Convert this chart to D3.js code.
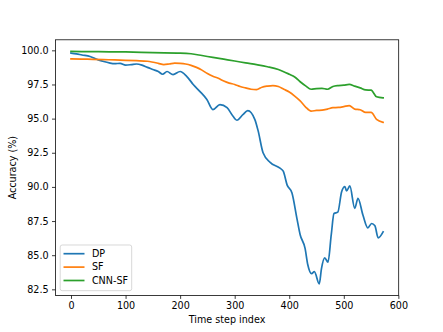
<!DOCTYPE html>
<html>
<head>
<meta charset="utf-8">
<script src="https://cdn.jsdelivr.net/npm/d3@7"></script>
<style>
  body { margin: 0; background: #fff; }
  text { font-family: "DejaVu Sans", sans-serif; }
</style>
</head>
<body>
<script>
// data
const stepsDP = [0, 10, 20, 35, 50, 60, 70, 80, 90, 100, 110, 120, 130, 140, 150, 160, 168, 176, 187, 200,
  212, 224, 236, 249, 260, 273, 286, 297, 304, 315, 324, 337, 343, 352, 365, 383, 389, 396, 405, 414,
  420, 429, 434, 441, 446, 455, 459, 465, 471, 477, 482, 489, 496, 502, 505, 511, 520, 526, 535, 544,
  551, 557, 563, 572];
const accDP = [99.8, 99.74, 99.66, 99.55, 99.3, 99.18, 99.08, 99.02, 99.05, 98.92, 98.95, 99.0, 98.92, 98.75, 98.6, 98.45, 98.25, 98.45, 98.22, 98.45,
  98.1, 97.5, 97.0, 96.4, 95.66, 96.03, 95.8, 95.17, 94.88, 95.29, 95.59, 94.93, 94.1, 92.5, 91.8, 91.37, 91.15, 90.15, 89.55, 87.7,
  86.5, 85.5, 84.3, 83.65, 83.8, 82.9, 84.0, 84.8, 84.5, 86.5, 88.05, 88.15, 89.65, 90.02, 89.7, 90.07, 88.43, 89.16, 87.94, 87.0,
  87.32, 87.15, 86.27, 86.71];

const stepsSF = [0, 20, 40, 60, 80, 100, 120, 140, 160, 170, 180, 190, 200, 210, 220, 230, 240, 250, 260, 270,
  280, 290, 300, 310, 320, 330, 340, 350, 360, 370, 380, 390, 400, 410, 420, 430, 440, 450, 460, 470,
  480, 490, 500, 510, 520, 530, 540, 550, 560, 572];
const accSF = [99.38, 99.36, 99.34, 99.32, 99.3, 99.27, 99.24, 99.2, 99.05, 98.95, 99.0, 99.07, 99.05, 99.0, 98.9, 98.75, 98.55, 98.3, 98.1, 97.95,
  97.75, 97.6, 97.5, 97.35, 97.25, 97.15, 97.12, 97.3, 97.38, 97.42, 97.35, 97.15, 96.95, 96.65, 96.3, 95.85, 95.55, 95.6, 95.62, 95.7,
  95.8, 95.82, 95.88, 95.95, 95.7, 95.65, 95.45, 95.45, 94.95, 94.73];

const stepsCNN = [0, 20, 50, 100, 150, 200, 220, 240, 260, 280, 300, 320, 340, 360, 380, 400, 410, 420, 430, 440,
  450, 460, 470, 480, 490, 500, 510, 520, 530, 540, 550, 560, 572];
const accCNN = [99.92, 99.91, 99.9, 99.88, 99.83, 99.8, 99.75, 99.62, 99.48, 99.35, 99.22, 99.08, 98.95, 98.8, 98.6, 98.25, 98.05, 97.7, 97.4, 97.15,
  97.2, 97.22, 97.15, 97.35, 97.42, 97.45, 97.5, 97.38, 97.25, 97.1, 97.08, 96.6, 96.52];

const seriesNames = ["DP", "SF", "CNN-SF"];
const seriesColors = ["#1f77b4", "#ff7f0e", "#2ca02c"];
const xTicks = [0, 100, 200, 300, 400, 500, 600];
const yTicks = [82.5, 85.0, 87.5, 90.0, 92.5, 95.0, 97.5, 100.0];

const series = [
  { name: seriesNames[0], color: seriesColors[0], pts: stepsDP.map((s, i) => [s, accDP[i]]) },
  { name: seriesNames[1], color: seriesColors[1], pts: stepsSF.map((s, i) => [s, accSF[i]]) },
  { name: seriesNames[2], color: seriesColors[2], pts: stepsCNN.map((s, i) => [s, accCNN[i]]) },
];

const width = 443, height = 332;
const axLeft = 55.4, axRight = 398.7, axTop = 39.8, axBottom = 295.5;

const svg = d3.select("body").append("svg")
  .attr("width", width)
  .attr("height", height);

// matplotlib style 5% margins
const allX = series.flatMap(s => s.pts.map(p => p[0]));
const allY = series.flatMap(s => s.pts.map(p => p[1]));
const [x0, x1] = d3.extent(allX);
const [y0, y1] = d3.extent(allY);
const xPad = (x1 - x0) * 0.05, yPad = (y1 - y0) * 0.05;

const x = d3.scaleLinear().domain([x0 - xPad, x1 + xPad]).range([axLeft, axRight]);
const y = d3.scaleLinear().domain([y0 - yPad, y1 + yPad]).range([axBottom, axTop]);

const line = d3.line()
  .x(d => x(d[0]))
  .y(d => y(d[1]))
  .curve(d3.curveMonotoneX);

const plot = svg.append("g");
plot.append("clipPath").attr("id", "clip")
  .append("rect").attr("x", axLeft).attr("y", axTop).attr("width", axRight - axLeft).attr("height", axBottom - axTop);

plot.selectAll("path.series")
  .data(series)
  .join("path")
  .attr("class", "series")
  .attr("clip-path", "url(#clip)")
  .attr("fill", "none")
  .attr("stroke", d => d.color)
  .attr("stroke-width", 1.7)
  .attr("stroke-linejoin", "round")
  .attr("stroke-linecap", "square")
  .attr("d", d => line(d.pts));

// axes
const xAxis = d3.axisBottom(x).tickValues(xTicks).tickSize(3.4).tickPadding(3.4).tickFormat(d3.format("d"));
const yAxis = d3.axisLeft(y).tickValues(yTicks).tickSize(3.4).tickPadding(3.4).tickFormat(d3.format(".1f"));

const gx = svg.append("g").attr("transform", `translate(0,${axBottom})`).call(xAxis);
const gy = svg.append("g").attr("transform", `translate(${axLeft},0)`).call(yAxis);
[gx, gy].forEach(g => {
  g.select(".domain").remove();
  g.selectAll(".tick line").attr("stroke", "#000").attr("stroke-width", 0.77);
  g.selectAll(".tick text").attr("fill", "#000").style("font-size", "9.6px").style("font-family", "DejaVu Sans");
});

// spines
svg.append("rect")
  .attr("x", axLeft).attr("y", axTop)
  .attr("width", axRight - axLeft).attr("height", axBottom - axTop)
  .attr("fill", "none").attr("stroke", "#000").attr("stroke-width", 0.77);

// labels
svg.append("text")
  .attr("x", (axLeft + axRight) / 2).attr("y", 323)
  .attr("text-anchor", "middle")
  .style("font-size", "9.6px")
  .text("Time step index");

svg.append("text")
  .attr("transform", `translate(16,${(axTop + axBottom) / 2}) rotate(-90)`)
  .attr("text-anchor", "middle")
  .style("font-size", "9.6px")
  .text("Accuracy (%)");

// legend
const lg = svg.append("g").attr("transform", `translate(${axLeft + 4.8},${axBottom - 50.5})`);
lg.append("rect")
  .attr("width", 71.5).attr("height", 45.7)
  .attr("rx", 2).attr("ry", 2)
  .attr("fill", "#fff").attr("fill-opacity", 0.8)
  .attr("stroke", "#ccc").attr("stroke-width", 0.77);

const items = lg.selectAll("g.item")
  .data(series)
  .join("g")
  .attr("class", "item")
  .attr("transform", (d, i) => `translate(0,${8.7 + i * 13.4})`);
items.append("line")
  .attr("x1", 3.3).attr("x2", 24.3)
  .attr("stroke", d => d.color).attr("stroke-width", 1.7);
items.append("text")
  .attr("x", 31.7).attr("dy", "0.35em")
  .style("font-size", "9.6px")
  .text(d => d.name);
</script>
</body>
</html>
